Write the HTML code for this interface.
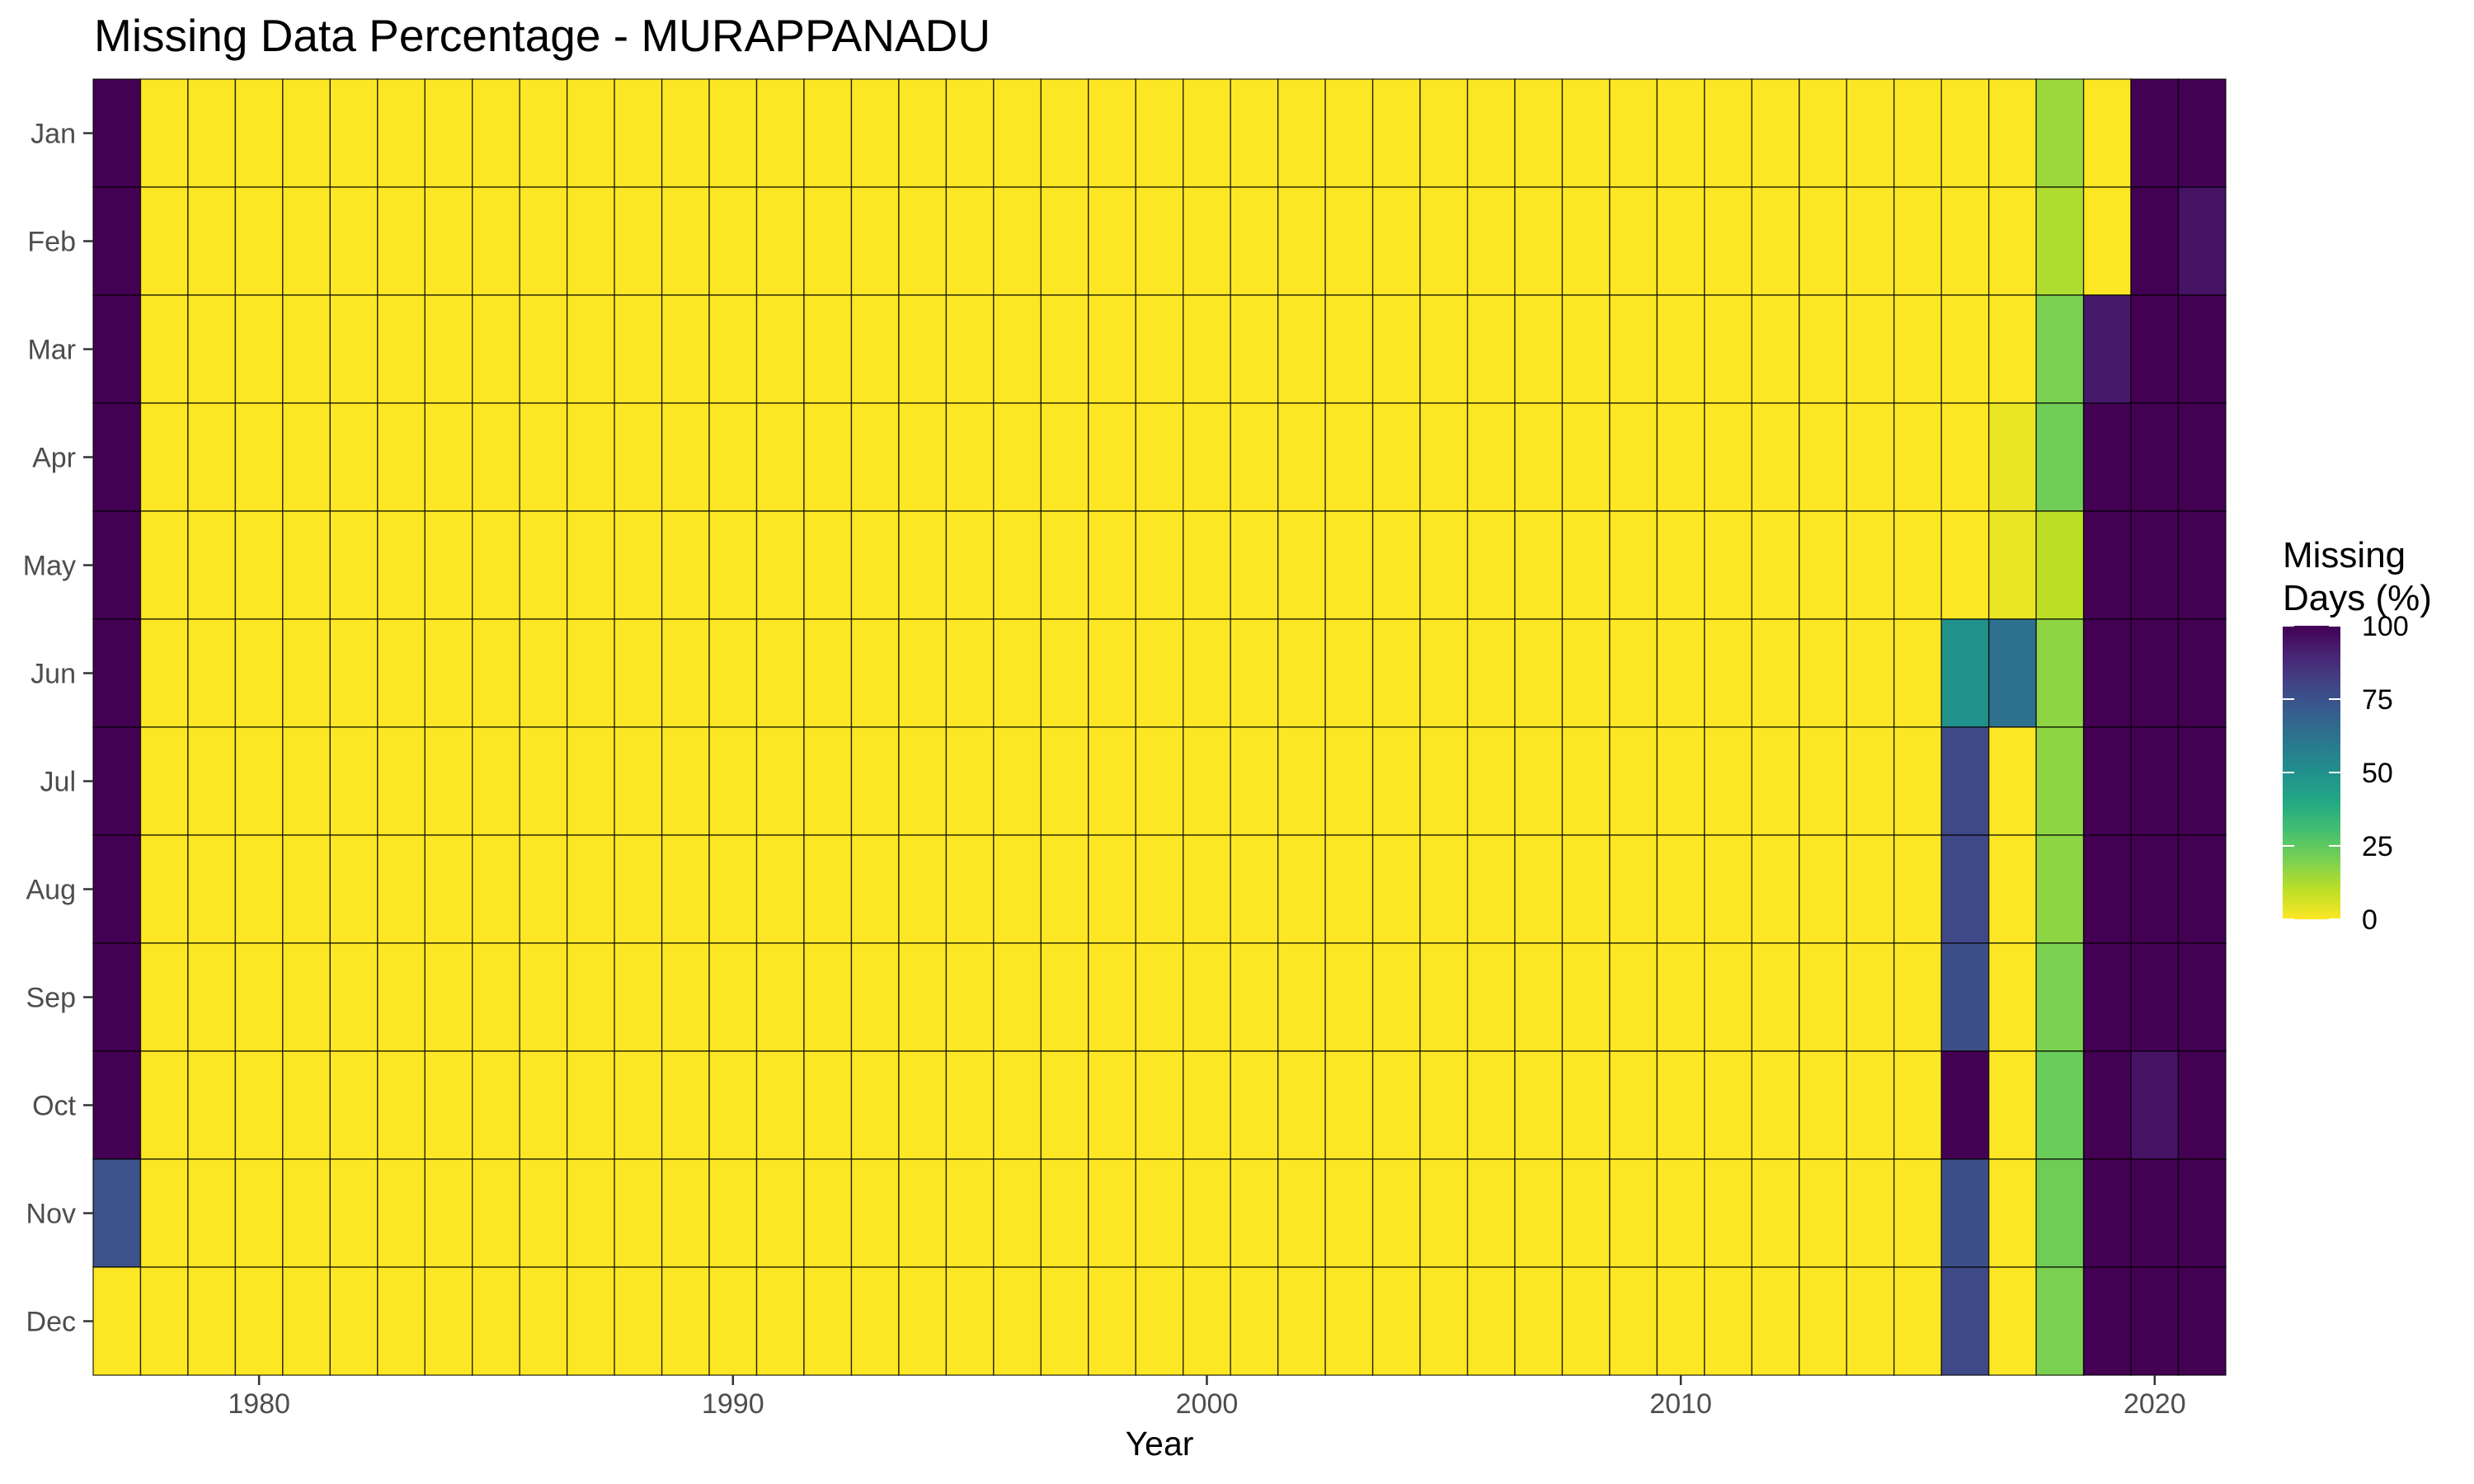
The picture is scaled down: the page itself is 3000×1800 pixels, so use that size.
<!DOCTYPE html>
<html><head><meta charset="utf-8"><style>
body{margin:0;background:#fff}
svg{display:block;font-family:"Liberation Sans",Arial,sans-serif}
</style></head><body>
<svg id="chart" width="3000" height="1800" viewBox="0 0 3000 1800" xmlns="http://www.w3.org/2000/svg">
<rect width="3000" height="1800" fill="#fff"/>
<text x="114" y="62" font-size="55" fill="#000">Missing Data Percentage - MURAPPANADU</text>
<g id="cells"></g>
<g id="yaxis"></g>
<g id="xaxis"></g>
<text x="1406" y="1765" font-size="41" text-anchor="middle" fill="#000">Year</text>
<g>
<text x="2768" y="688" font-size="44" fill="#000">Missing</text>
<text x="2768" y="740" font-size="44" fill="#000">Days (%)</text>
<defs><linearGradient id="vg" x1="0" y1="1" x2="0" y2="0">
<stop offset="0" stop-color="#fde725"/><stop offset="0.1" stop-color="#bddf26"/><stop offset="0.2" stop-color="#7ad151"/><stop offset="0.3" stop-color="#44bf70"/><stop offset="0.4" stop-color="#22a884"/><stop offset="0.5" stop-color="#21918c"/><stop offset="0.6" stop-color="#2a788e"/><stop offset="0.7" stop-color="#355f8d"/><stop offset="0.8" stop-color="#414487"/><stop offset="0.9" stop-color="#482475"/><stop offset="1" stop-color="#440154"/>
</linearGradient></defs>
<rect x="2768" y="759" width="70" height="356" fill="url(#vg)"/>
<g id="legticks"></g>
</g>
</svg>
<script>
const years = [];
for (let y = 1977; y <= 2021; y++) years.push(y);
const months = ["Jan","Feb","Mar","Apr","May","Jun","Jul","Aug","Sep","Oct","Nov","Dec"];
const xTicks = [1980,1990,2000,2010,2020];
const legendTicks = [0,25,50,75,100];
// special-year values (Jan..Dec); all other years are 0
const v1977 = [100,100,100,100,100,100,100,100,100,100,75,0];
const v2016 = [0,0,0,0,0,50,78,78,76,100,76,78];
const v2017 = [0,0,0,3,3,63,0,0,0,0,0,0];
const v2018 = [15,12,20,22,10,17,17,17,20,23,22,20];
const v2019 = [0,0,93,100,100,100,100,100,100,100,100,100];
const v2020 = [100,100,100,100,100,100,100,100,100,95,100,100];
const v2021 = [100,95,100,100,100,100,100,100,100,100,100,100];
const special = {1977:v1977,2016:v2016,2017:v2017,2018:v2018,2019:v2019,2020:v2020,2021:v2021};

const L=113,R=2699,T=96,B=1668;
const cw=(R-L)/years.length, rh=(B-T)/months.length;
const xPos=y=>L+(y-years[0])*cw;
const yPos=i=>T+i*rh;
const vir=["#fde725","#bddf26","#7ad151","#44bf70","#22a884","#21918c","#2a788e","#355f8d","#414487","#482475","#440154"];
function hex(h){return [1,3,5].map(i=>parseInt(h.substr(i,2),16));}
function color(v){const t=Math.max(0,Math.min(1,v/100))*10;const i=Math.min(9,Math.floor(t));const f=t-i;
const a=hex(vir[i]),b=hex(vir[i+1]);return "rgb("+a.map((c,k)=>Math.round(c+(b[k]-c)*f)).join(",")+")";}
const NS="http://www.w3.org/2000/svg";
function mk(tag,attrs,parent){const e=document.createElementNS(NS,tag);for(const k in attrs)e.setAttribute(k,attrs[k]);parent.appendChild(e);return e;}
const cells=document.getElementById('cells');
years.forEach(y=>{
  const vals=special[y]||new Array(12).fill(0);
  months.forEach((m,i)=>{
    const r=mk('rect',{x:xPos(y),y:yPos(i),width:cw,height:rh,fill:color(vals[i]),stroke:"#000","stroke-width":1.4,"stroke-opacity":0.75},cells);
    
    
  });
});
const ya=document.getElementById('yaxis');
months.forEach((m,i)=>{
  const cy=yPos(i)+rh/2;
  mk('line',{x1:101,x2:113,y1:cy,y2:cy,stroke:"#333","stroke-width":2.5},ya);
  const t=mk('text',{x:92,y:cy+12,"font-size":34,"text-anchor":"end",fill:"#4d4d4d"},ya);
  t.textContent=m;
  
  
});
const xa=document.getElementById('xaxis');
xTicks.forEach(y=>{
  const cx=xPos(y)+cw/2;
  mk('line',{x1:cx,x2:cx,y1:B,y2:B+12,stroke:"#333","stroke-width":2.5},xa);
  const t=mk('text',{x:cx,y:1714,"font-size":34,"text-anchor":"middle",fill:"#4d4d4d"},xa);
  t.textContent=y;
  
  
});
const lg=document.getElementById('legticks');
legendTicks.forEach(v=>{
  const cy=1115-(v/100)*356;
  mk('line',{x1:2768,x2:2782,y1:cy,y2:cy,stroke:"#fff","stroke-width":2},lg);
  mk('line',{x1:2824,x2:2838,y1:cy,y2:cy,stroke:"#fff","stroke-width":2},lg);
  const t=mk('text',{x:2864,y:cy+12,"font-size":34,fill:"#000"},lg);
  t.textContent=v;
  
  
});
</script>
</body></html>
